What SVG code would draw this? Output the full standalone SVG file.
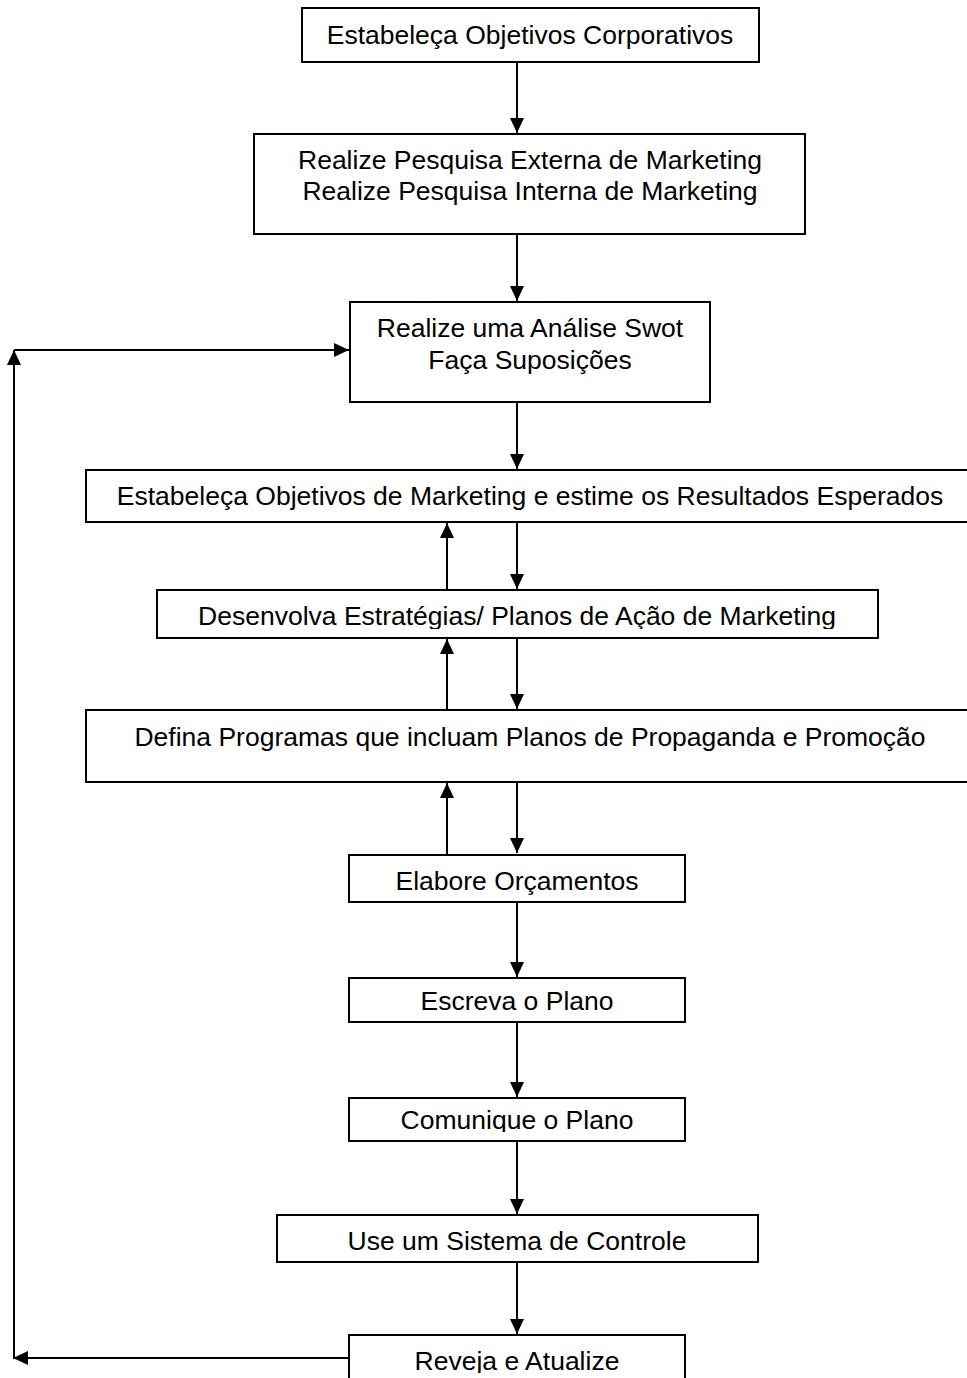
<svg xmlns="http://www.w3.org/2000/svg" width="967" height="1378" viewBox="0 0 967 1378">
<style>
  .box { fill: #ffffff; stroke: #000000; stroke-width: 2; }
  .lbl { font-family: "Liberation Sans", Arial, sans-serif; font-size: 26.5px; fill: #000000; text-anchor: middle; }
  .con { fill: none; stroke: #000000; stroke-width: 2; }
</style>
<defs>
  <marker id="ah" markerUnits="userSpaceOnUse" markerWidth="16" markerHeight="14" refX="15" refY="7" orient="auto">
    <path d="M0,0 L15,7 L0,14 Z" fill="#000000"/>
  </marker>
  <clipPath id="c5"><rect x="158" y="590" width="720" height="39"/></clipPath>
  <clipPath id="c9"><rect x="350" y="1098" width="336" height="34"/></clipPath>
  <clipPath id="c11"><rect x="350" y="1335" width="336" height="38"/></clipPath>
</defs>
<rect width="967" height="1378" fill="#ffffff"/>

<g id="connectors">
  <line class="con" x1="517" y1="62" x2="517" y2="133" marker-end="url(#ah)"/>
  <line class="con" x1="517" y1="234" x2="517" y2="301" marker-end="url(#ah)"/>
  <line class="con" x1="517" y1="402" x2="517" y2="469" marker-end="url(#ah)"/>
  <line class="con" x1="517" y1="522" x2="517" y2="589" marker-end="url(#ah)"/>
  <line class="con" x1="517" y1="638" x2="517" y2="709" marker-end="url(#ah)"/>
  <line class="con" x1="517" y1="782" x2="517" y2="853" marker-end="url(#ah)"/>
  <line class="con" x1="517" y1="902" x2="517" y2="977" marker-end="url(#ah)"/>
  <line class="con" x1="517" y1="1022" x2="517" y2="1097" marker-end="url(#ah)"/>
  <line class="con" x1="517" y1="1141" x2="517" y2="1214" marker-end="url(#ah)"/>
  <line class="con" x1="517" y1="1262" x2="517" y2="1334" marker-end="url(#ah)"/>
  <line class="con" x1="447" y1="589" x2="447" y2="523" marker-end="url(#ah)"/>
  <line class="con" x1="447" y1="710" x2="447" y2="639" marker-end="url(#ah)"/>
  <line class="con" x1="447" y1="854" x2="447" y2="783" marker-end="url(#ah)"/>
  <line class="con" x1="349" y1="1358" x2="13" y2="1358" marker-end="url(#ah)"/>
  <line class="con" x1="14" y1="1358" x2="14" y2="350" marker-end="url(#ah)"/>
  <line class="con" x1="14" y1="350" x2="349" y2="350" marker-end="url(#ah)"/>
</g>

<g id="n1">
  <rect class="box" x="302" y="8" width="457" height="54"/>
  <text class="lbl" x="530" y="44">Estabeleça Objetivos Corporativos</text>
</g>
<g id="n2">
  <rect class="box" x="254" y="134" width="551" height="100"/>
  <text class="lbl" x="530" y="169">Realize Pesquisa Externa de Marketing</text>
  <text class="lbl" x="530" y="200">Realize Pesquisa Interna de Marketing</text>
</g>
<g id="n3">
  <rect class="box" x="350" y="302" width="360" height="100"/>
  <text class="lbl" x="530" y="337">Realize uma Análise Swot</text>
  <text class="lbl" x="530" y="369">Faça Suposições</text>
</g>
<g id="n4">
  <rect class="box" x="86" y="470" width="890" height="52"/>
  <text class="lbl" x="530" y="505">Estabeleça Objetivos de Marketing e estime os Resultados Esperados</text>
</g>
<g id="n5">
  <rect class="box" x="157" y="590" width="721" height="48"/>
  <text class="lbl" x="517" y="625" clip-path="url(#c5)">Desenvolva Estratégias/ Planos de Ação de Marketing</text>
</g>
<g id="n6">
  <rect class="box" x="86" y="710" width="890" height="72"/>
  <text class="lbl" x="530" y="746">Defina Programas que incluam Planos de Propaganda e Promoção</text>
</g>
<g id="n7">
  <rect class="box" x="349" y="855" width="336" height="47"/>
  <text class="lbl" x="517" y="890">Elabore Orçamentos</text>
</g>
<g id="n8">
  <rect class="box" x="349" y="978" width="336" height="44"/>
  <text class="lbl" x="517" y="1010">Escreva o Plano</text>
</g>
<g id="n9">
  <rect class="box" x="349" y="1098" width="336" height="43"/>
  <text class="lbl" x="517" y="1129" clip-path="url(#c9)">Comunique o Plano</text>
</g>
<g id="n10">
  <rect class="box" x="277" y="1215" width="481" height="47"/>
  <text class="lbl" x="517" y="1250">Use um Sistema de Controle</text>
</g>
<g id="n11">
  <rect class="box" x="349" y="1335" width="336" height="60"/>
  <text class="lbl" x="517" y="1370" clip-path="url(#c11)">Reveja e Atualize</text>
</g>
</svg>
